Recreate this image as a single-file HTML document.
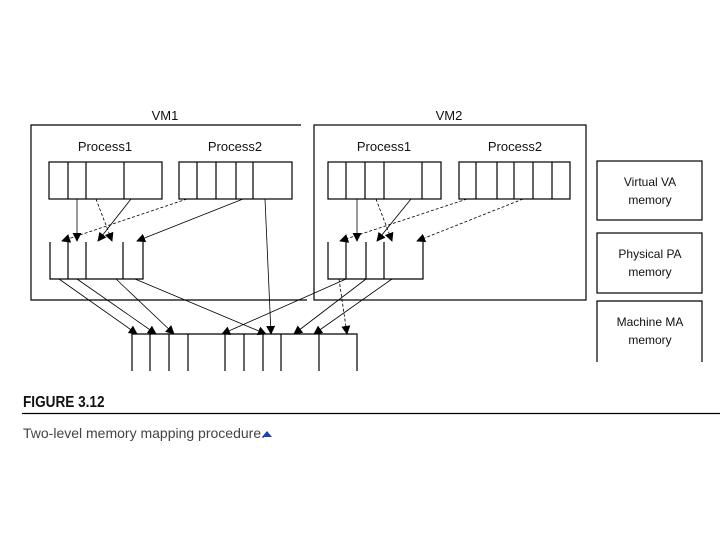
<!DOCTYPE html>
<html><head><meta charset="utf-8"><style>
html,body{margin:0;padding:0;background:#fff;}
svg{display:block;}
text{font-family:"Liberation Sans",sans-serif;fill:#111;}
</style></head><body>
<svg width="720" height="540" viewBox="0 0 720 540" xmlns="http://www.w3.org/2000/svg">
<defs>
<marker id="a" viewBox="0 0 10 10" refX="9" refY="5" markerWidth="9" markerHeight="9" orient="auto" markerUnits="userSpaceOnUse"><path d="M0,0 L10,5 L0,10 z" fill="#000"/></marker>
</defs>
<g stroke="#000" stroke-width="1.2" fill="none">
<polyline points="301,125 31,125 31,300 307,300"/>
<rect x="314" y="125" width="272" height="175"/>
<rect x="597" y="161" width="105" height="59"/>
<rect x="597" y="233" width="105" height="60"/>
<polyline points="597,362 597,301 702,301 702,362"/>
<rect x="49" y="162" width="113" height="37"/>
<path d="M68,162V199M86,162V199M124,162V199"/>
<rect x="179" y="162" width="113" height="37"/>
<path d="M197,162V199M216,162V199M236,162V199M253,162V199"/>
<path d="M50,242V279H143V242M68,242V279M86,242V279M123,242V279"/>
<rect x="328" y="162" width="113" height="37"/>
<path d="M346,162V199M365,162V199M384,162V199M422,162V199"/>
<rect x="459" y="162" width="111" height="37"/>
<path d="M476,162V199M497,162V199M514,162V199M533,162V199M552,162V199"/>
<path d="M328,242V279H423V242M346,242V279M366,242V279M384,242V279"/>
<path d="M132,371V334H357V371M150,334V371M169,334V371M188,334V371M225,334V371M244,334V371M263,334V371M281,334V371M319,334V371"/>
</g>
<g stroke="#000" stroke-width="0.8" fill="none" marker-end="url(#a)">
<line x1="77" y1="199" x2="77" y2="241"/>
<line x1="96" y1="199" x2="112" y2="241" stroke-dasharray="3,2"/>
<line x1="131" y1="199" x2="98" y2="241"/>
<line x1="187" y1="199" x2="62" y2="241" stroke-dasharray="3,2"/>
<line x1="243" y1="199" x2="137" y2="241"/>
<line x1="265" y1="199" x2="271" y2="334"/>
<line x1="59" y1="279" x2="137" y2="334"/>
<line x1="77" y1="279" x2="156" y2="334"/>
<line x1="116" y1="279" x2="174" y2="334"/>
<line x1="135" y1="279" x2="266" y2="334"/>
<line x1="357" y1="199" x2="357" y2="241"/>
<line x1="376" y1="199" x2="392" y2="241" stroke-dasharray="3,2"/>
<line x1="411" y1="199" x2="377" y2="241"/>
<line x1="467" y1="199" x2="340" y2="241" stroke-dasharray="3,2"/>
<line x1="523" y1="199" x2="417" y2="241" stroke-dasharray="3,2"/>
<line x1="346" y1="279" x2="222" y2="334"/>
<line x1="366" y1="279" x2="294" y2="334"/>
<line x1="392" y1="279" x2="314" y2="334"/>
<line x1="339" y1="279" x2="347" y2="334" stroke-dasharray="3,2"/>
</g>
<g font-size="13" text-anchor="middle">
<text x="165" y="120">VM1</text>
<text x="449" y="120">VM2</text>
<text x="105" y="151">Process1</text>
<text x="235" y="151">Process2</text>
<text x="384" y="151">Process1</text>
<text x="515" y="151">Process2</text>
</g>
<g font-size="12" text-anchor="middle">
<text x="650" y="186">Virtual VA</text>
<text x="650" y="204">memory</text>
<text x="650" y="258">Physical PA</text>
<text x="650" y="276">memory</text>
<text x="650" y="326">Machine MA</text>
<text x="650" y="344">memory</text>
</g>
<text x="23" y="407" font-size="16" font-weight="bold" transform="translate(23,0) scale(0.85,1) translate(-23,0)">FIGURE 3.12</text>
<line x1="22" y1="413.5" x2="720" y2="413.5" stroke="#000" stroke-width="1.3"/>
<text x="23" y="438" font-size="14" style="fill:#444">Two-level memory mapping procedure.</text>
<path d="M262,437 L267,431 L272,437 z" fill="#1a3fbf"/>
</svg>
</body></html>
